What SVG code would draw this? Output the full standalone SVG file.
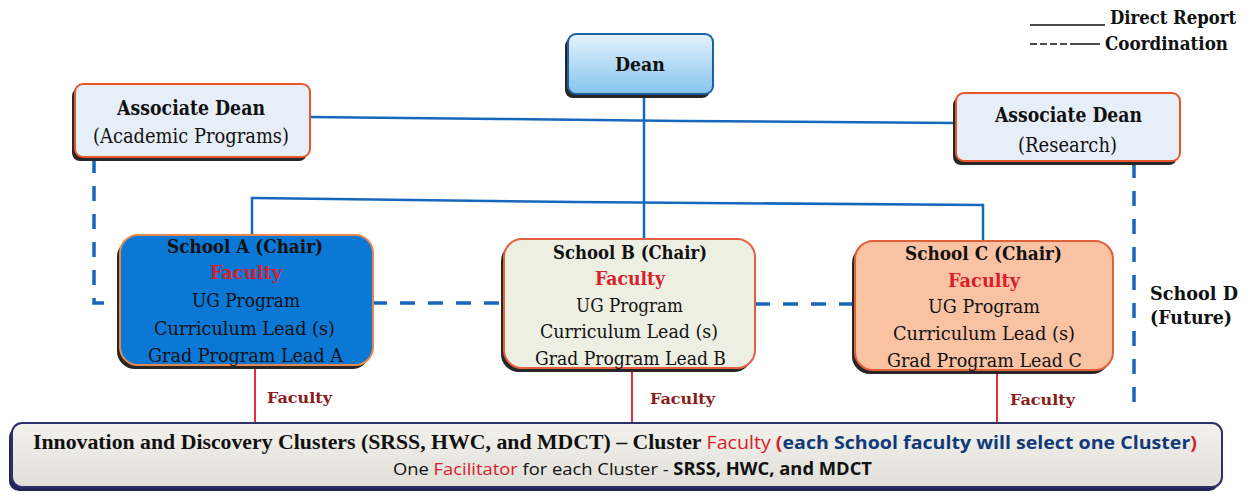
<svg xmlns="http://www.w3.org/2000/svg" width="1250" height="498" viewBox="0 0 1250 498">
<style>
.bg{fill:#ffffff}
.shadow{fill:#262626}
.ser{font-family:"DejaVu Serif","Liberation Serif",serif;fill:#111111}
.lser{font-family:"Liberation Serif","DejaVu Serif",serif}
.b{font-weight:bold}
.sans{font-family:"Open Sans","Liberation Sans",sans-serif;fill:#111111}
.red{fill:#d8202a}
.navy{fill:#123a78}
.fac{font-family:"DejaVu Serif","Liberation Serif",serif;font-weight:bold;fill:#8a1c1c;font-size:15px}
.solid{fill:none;stroke:#1767bd;stroke-width:2.5}
.dash{fill:none;stroke:#1767bd;stroke-width:3.5;stroke-dasharray:15 13}
.redl{fill:none;stroke:#e2182a;stroke-width:1.8}
.assoc{fill:#e6eef8;stroke:#e8552d;stroke-width:2}
</style>
<defs>
<linearGradient id="gDean" x1="0" y1="0" x2="0" y2="1">
<stop offset="0" stop-color="#e4f2fc"/>
<stop offset="1" stop-color="#86c4ee"/>
</linearGradient>
<linearGradient id="gBot" x1="0" y1="0" x2="0" y2="1">
<stop offset="0" stop-color="#f2f1ec"/>
<stop offset="1" stop-color="#e0dfd8"/>
</linearGradient>
</defs>
<rect class="bg" x="0" y="0" width="1250" height="498"/>

<g id="legend">
<line x1="1030" y1="25" x2="1105" y2="25" stroke="#111" stroke-width="1.5"/>
<text class="ser b" x="1110" y="24" font-size="18" textLength="126" lengthAdjust="spacingAndGlyphs">Direct Report</text>
<line x1="1030" y1="44" x2="1102" y2="44" stroke="#111" stroke-width="1.5" stroke-dasharray="7 3 7 3 7 3 7 3 30"/>
<text class="ser b" x="1105" y="50" font-size="18" textLength="123" lengthAdjust="spacingAndGlyphs">Coordination</text>
</g>

<g id="connectors">
<polyline class="solid" points="310,117 500,119 682,121 956,123"/>
<line class="solid" x1="644" y1="94" x2="644" y2="239"/>
<polyline class="solid" points="252,235 252,198 575,202 983,205 983,241"/>
<polyline class="dash" points="94,158 94,303 120,303"/>
<line class="dash" x1="372" y1="303" x2="504" y2="303"/>
<line class="dash" x1="755" y1="304" x2="855" y2="304"/>
<line class="dash" x1="1134" y1="163" x2="1134" y2="414"/>
<line class="redl" x1="255" y1="365" x2="255" y2="423"/>
<line class="redl" x1="632" y1="370" x2="632" y2="423"/>
<line class="redl" x1="997" y1="370" x2="997" y2="423"/>
<text class="fac" x="267" y="403" textLength="65" lengthAdjust="spacingAndGlyphs">Faculty</text>
<text class="fac" x="650" y="404" textLength="65" lengthAdjust="spacingAndGlyphs">Faculty</text>
<text class="fac" x="1010" y="405" textLength="65" lengthAdjust="spacingAndGlyphs">Faculty</text>
</g>

<g id="dean">
<rect class="shadow" x="565" y="38" width="145" height="60" rx="8"/>
<rect x="568" y="34" width="145" height="60" rx="8" fill="url(#gDean)" stroke="#1f5f9f" stroke-width="2"/>
<text class="ser b" x="640" y="71" font-size="19" text-anchor="middle" textLength="50" lengthAdjust="spacingAndGlyphs">Dean</text>
</g>

<g id="assoc-academic">
<rect class="shadow" x="72" y="88" width="235" height="73" rx="8"/>
<rect class="assoc" x="75" y="84" width="235" height="73" rx="8"/>
<text class="ser b" x="117" y="115" font-size="20" textLength="148" lengthAdjust="spacingAndGlyphs">Associate Dean</text>
<text class="ser" x="93" y="143" font-size="20" textLength="196" lengthAdjust="spacingAndGlyphs">(Academic Programs)</text>
</g>

<g id="assoc-research">
<rect class="shadow" x="953" y="97" width="224" height="68" rx="8"/>
<rect class="assoc" x="956" y="93" width="224" height="68" rx="8"/>
<text class="ser b" x="995" y="122" font-size="20" textLength="147" lengthAdjust="spacingAndGlyphs">Associate Dean</text>
<text class="ser" x="1018" y="152" font-size="20" textLength="99" lengthAdjust="spacingAndGlyphs">(Research)</text>
</g>

<g id="school-a">
<rect class="shadow" x="117" y="239" width="253" height="130" rx="18"/>
<rect x="120" y="235" width="253" height="130" rx="18" fill="#0b78d6" stroke="#e8874a" stroke-width="2"/>
<text class="ser b" x="167" y="253" font-size="19" textLength="156" lengthAdjust="spacingAndGlyphs">School A (Chair)</text>
<text class="ser b red" x="210" y="279" font-size="19" textLength="72" lengthAdjust="spacingAndGlyphs">Faculty</text>
<text class="ser" x="192" y="307" font-size="19" textLength="108" lengthAdjust="spacingAndGlyphs">UG Program</text>
<text class="ser" x="154" y="335" font-size="19" textLength="181" lengthAdjust="spacingAndGlyphs">Curriculum Lead (s)</text>
<text class="ser" x="148" y="362" font-size="19" textLength="195" lengthAdjust="spacingAndGlyphs">Grad Program Lead A</text>
</g>

<g id="school-b">
<rect class="shadow" x="501" y="243" width="251" height="129" rx="18"/>
<rect x="504" y="239" width="251" height="129" rx="18" fill="#edefe3" stroke="#e5603f" stroke-width="2"/>
<text class="ser b" x="553" y="259" font-size="19" textLength="154" lengthAdjust="spacingAndGlyphs">School B (Chair)</text>
<text class="ser b red" x="595" y="285" font-size="19" textLength="70" lengthAdjust="spacingAndGlyphs">Faculty</text>
<text class="ser" x="576" y="312" font-size="19" textLength="107" lengthAdjust="spacingAndGlyphs">UG Program</text>
<text class="ser" x="540" y="338" font-size="19" textLength="178" lengthAdjust="spacingAndGlyphs">Curriculum Lead (s)</text>
<text class="ser" x="535" y="365" font-size="19" textLength="191" lengthAdjust="spacingAndGlyphs">Grad Program Lead B</text>
</g>

<g id="school-c">
<rect class="shadow" x="852" y="245" width="258" height="129" rx="18"/>
<rect x="855" y="241" width="258" height="129" rx="18" fill="#f9c3a3" stroke="#e0603a" stroke-width="2"/>
<text class="ser b" x="905" y="260" font-size="19" textLength="157" lengthAdjust="spacingAndGlyphs">School C (Chair)</text>
<text class="ser b red" x="948" y="287" font-size="19" textLength="72" lengthAdjust="spacingAndGlyphs">Faculty</text>
<text class="ser" x="928" y="313" font-size="19" textLength="112" lengthAdjust="spacingAndGlyphs">UG Program</text>
<text class="ser" x="893" y="340" font-size="19" textLength="182" lengthAdjust="spacingAndGlyphs">Curriculum Lead (s)</text>
<text class="ser" x="887" y="367" font-size="19" textLength="195" lengthAdjust="spacingAndGlyphs">Grad Program Lead C</text>
</g>

<g id="school-d">
<text class="ser b" x="1150" y="300" font-size="19" textLength="88" lengthAdjust="spacingAndGlyphs">School D</text>
<text class="ser b" x="1150" y="324" font-size="19" textLength="82" lengthAdjust="spacingAndGlyphs">(Future)</text>
</g>

<g id="clusters">
<rect x="9" y="427" width="1210" height="64" rx="10" fill="#23255a"/>
<rect x="12" y="423" width="1210" height="64" rx="10" fill="url(#gBot)" stroke="#2e2f6b" stroke-width="2"/>
<text class="sans" x="33" y="449" font-size="18" textLength="1164" lengthAdjust="spacingAndGlyphs"><tspan class="lser b" font-size="20">Innovation and Discovery Clusters  (SRSS, HWC, and MDCT) – Cluster </tspan><tspan class="red">Faculty </tspan><tspan class="red b">(</tspan><tspan class="navy b">each School faculty will select one Cluster</tspan><tspan class="red b">)</tspan></text>
<text class="sans" x="393" y="475" font-size="17" textLength="479" lengthAdjust="spacingAndGlyphs">One <tspan class="red">Facilitator</tspan> for each Cluster -  <tspan class="b">SRSS, HWC, and MDCT</tspan></text>
</g>
</svg>
